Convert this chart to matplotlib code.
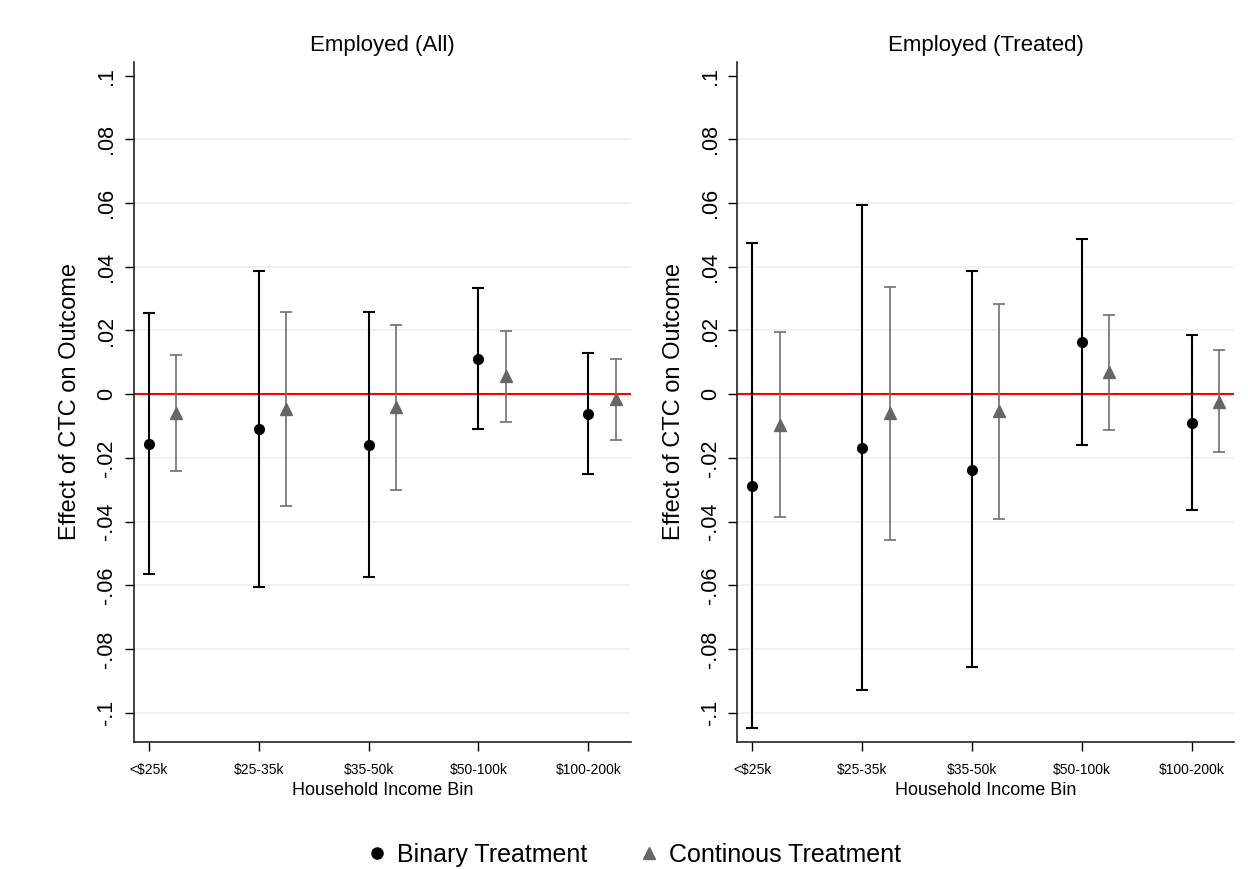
import matplotlib.pyplot as plt
import numpy as np
from matplotlib.lines import Line2D
from matplotlib.ticker import FuncFormatter

plt.rcParams["font.family"] = ["Liberation Sans", "DejaVu Sans"]

income_bins = ["<$25k", "$25-35k", "$35-50k", "$50-100k", "$100-200k"]

# Employed (All)
all_bin_est = [-0.0155, -0.0110, -0.0159, 0.0111, -0.0063]
all_bin_lo = [-0.0563, -0.0605, -0.0575, -0.0109, -0.0250]
all_bin_hi = [0.0254, 0.0388, 0.0259, 0.0333, 0.0128]
all_cont_est = [-0.0060, -0.0046, -0.0039, 0.0058, -0.0016]
all_cont_lo = [-0.0242, -0.0350, -0.0301, -0.0087, -0.0145]
all_cont_hi = [0.0124, 0.0257, 0.0217, 0.0197, 0.0109]

# Employed (Treated)
trt_bin_est = [-0.0288, -0.0169, -0.0238, 0.0163, -0.0091]
trt_bin_lo = [-0.1047, -0.0929, -0.0857, -0.0158, -0.0363]
trt_bin_hi = [0.0474, 0.0594, 0.0386, 0.0487, 0.0185]
trt_cont_est = [-0.0096, -0.0060, -0.0054, 0.0071, -0.0023]
trt_cont_lo = [-0.0387, -0.0459, -0.0392, -0.0111, -0.0183]
trt_cont_hi = [0.0196, 0.0337, 0.0284, 0.0250, 0.0139]

y_ticks = [-0.1, -0.08, -0.06, -0.04, -0.02, 0, 0.02, 0.04, 0.06, 0.08, 0.1]

BIN_COLOR = "black"
CONT_COLOR = "#707070"
GRID_COLOR = "#E8F1F2"


def stata_fmt(v, _pos):
    if abs(v) < 1e-9:
        return "0"
    s = f"{v:.2f}".rstrip("0")
    return s.replace("0.", ".")


def draw_panel(ax, title, b_est, b_lo, b_hi, c_est, c_lo, c_hi):
    x = np.arange(len(income_bins))
    b_est, b_lo, b_hi = map(np.array, (b_est, b_lo, b_hi))
    c_est, c_lo, c_hi = map(np.array, (c_est, c_lo, c_hi))

    for t in y_ticks[:-1]:
        if t != 0:
            ax.axhline(t, color=GRID_COLOR, lw=1.3, zorder=0)
    ax.axhline(0, color="#FF0000", lw=1.5, zorder=1)

    ax.errorbar(x, b_est, yerr=[b_est - b_lo, b_hi - b_est], fmt="o",
                color=BIN_COLOR, ecolor=BIN_COLOR, elinewidth=1.5, capsize=4.5,
                capthick=1.5, markersize=7, zorder=3)
    ax.errorbar(x + 0.25, c_est, yerr=[c_est - c_lo, c_hi - c_est], fmt="^",
                color="#666666", ecolor=CONT_COLOR, elinewidth=1.2, capsize=4.5,
                capthick=1.2, markersize=8, zorder=3)

    ax.set_xlim(-0.137, 4.388)
    ax.set_ylim(-0.1093, 0.1044)
    ax.set_xticks(x)
    ax.set_xticklabels(income_bins, fontsize=10)
    ax.set_yticks(y_ticks)
    ax.yaxis.set_major_formatter(FuncFormatter(stata_fmt))
    for lab in ax.get_yticklabels():
        lab.set_rotation(90)
        lab.set_va("center")
    ax.tick_params(axis="y", labelsize=15.5, length=6.7, width=1, pad=5)
    ax.tick_params(axis="x", length=6.7, width=1, pad=8)

    ax.spines["top"].set_visible(False)
    ax.spines["right"].set_visible(False)
    for sp in ("left", "bottom"):
        ax.spines[sp].set_linewidth(1.2)
        ax.spines[sp].set_color("#222222")

    ax.set_title(title, fontsize=16, pad=8)
    ax.set_xlabel("Household Income Bin", fontsize=13, labelpad=4)
    ax.set_ylabel("Effect of CTC on Outcome", fontsize=17, labelpad=11)


fig = plt.figure(figsize=(12.48, 8.69), dpi=100)
ax1 = fig.add_axes([0.1071, 0.1458, 0.3985, 0.7832])
ax2 = fig.add_axes([0.5908, 0.1458, 0.3982, 0.7832])

draw_panel(ax1, "Employed (All)", all_bin_est, all_bin_lo, all_bin_hi,
           all_cont_est, all_cont_lo, all_cont_hi)
draw_panel(ax2, "Employed (Treated)", trt_bin_est, trt_bin_lo, trt_bin_hi,
           trt_cont_est, trt_cont_lo, trt_cont_hi)

handles = [
    Line2D([], [], marker="o", color=BIN_COLOR, ls="none", markersize=8),
    Line2D([], [], marker="^", color="#666666", ls="none", markersize=9),
]
fig.legend(handles, ["Binary Treatment", "Continous Treatment"], ncol=2,
           loc="center", bbox_to_anchor=(0.507, 1 - 855 / 869), frameon=False,
           fontsize=18, handlelength=1.0, handletextpad=0.3, columnspacing=2.0)

fig.savefig("out.png", dpi=100, facecolor="white")
